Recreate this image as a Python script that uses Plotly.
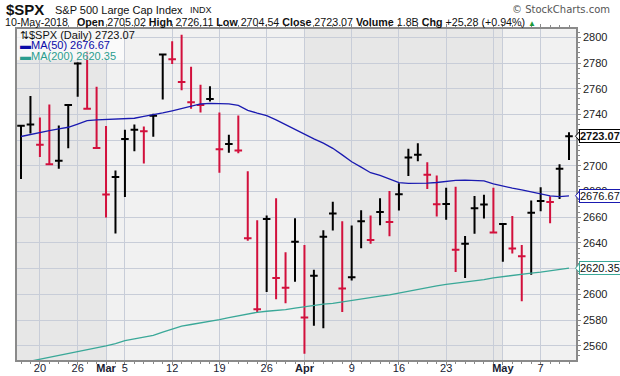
import plotly.graph_objects as go

dates = ["2018-02-15", "2018-02-16", "2018-02-20", "2018-02-21", "2018-02-22", "2018-02-23",
         "2018-02-26", "2018-02-27", "2018-02-28", "2018-03-01", "2018-03-02", "2018-03-05",
         "2018-03-06", "2018-03-07", "2018-03-08", "2018-03-09", "2018-03-12", "2018-03-13",
         "2018-03-14", "2018-03-15", "2018-03-16", "2018-03-19", "2018-03-20", "2018-03-21",
         "2018-03-22", "2018-03-23", "2018-03-26", "2018-03-27", "2018-03-28", "2018-03-29",
         "2018-04-02", "2018-04-03", "2018-04-04", "2018-04-05", "2018-04-06", "2018-04-09",
         "2018-04-10", "2018-04-11", "2018-04-12", "2018-04-13", "2018-04-16", "2018-04-17",
         "2018-04-18", "2018-04-19", "2018-04-20", "2018-04-23", "2018-04-24", "2018-04-25",
         "2018-04-26", "2018-04-27", "2018-04-30", "2018-05-01", "2018-05-02", "2018-05-03",
         "2018-05-04", "2018-05-07", "2018-05-08", "2018-05-09", "2018-05-10"]

high = [2731.5, 2754.4, 2737.6, 2747.8, 2731.3, 2747.8, 2780.6, 2789.2, 2761.5, 2730.9,
        2696.3, 2728.1, 2732.1, 2730.6, 2740.5, 2786.6, 2797.0, 2801.9, 2777.1, 2763.0,
        2761.9, 2741.4, 2724.2, 2739.1, 2695.7, 2657.7, 2661.4, 2674.8, 2632.7, 2659.1,
        2638.3, 2619.1, 2649.9, 2672.1, 2656.9, 2653.6, 2665.5, 2661.4, 2674.7, 2680.3,
        2686.5, 2713.3, 2717.5, 2702.8, 2692.4, 2682.9, 2683.6, 2645.3, 2676.5, 2677.4,
        2682.9, 2655.3, 2660.9, 2638.3, 2673.0, 2683.4, 2676.3, 2701.3, 2726.1]
low = [2689.8, 2725.1, 2706.8, 2701.3, 2697.8, 2713.7, 2753.8, 2744.2, 2713.5, 2659.7,
       2647.3, 2675.8, 2711.3, 2701.7, 2722.7, 2751.5, 2779.3, 2758.7, 2744.4, 2741.5,
       2750.0, 2694.6, 2710.1, 2709.8, 2641.6, 2585.9, 2601.8, 2596.1, 2593.1, 2609.7,
       2553.8, 2575.5, 2573.6, 2649.6, 2586.3, 2610.8, 2635.8, 2639.3, 2653.8, 2645.1,
       2665.2, 2692.1, 2703.6, 2681.9, 2660.6, 2658.0, 2617.3, 2612.7, 2647.2, 2659.0,
       2648.0, 2625.4, 2631.7, 2594.6, 2615.3, 2664.7, 2655.2, 2674.1, 2704.5]
close = [2731.2, 2732.2, 2716.3, 2701.3, 2704.0, 2747.3, 2779.6, 2744.3, 2713.8, 2677.7,
         2691.3, 2720.9, 2728.1, 2726.8, 2739.0, 2786.6, 2783.0, 2765.3, 2749.5, 2747.3,
         2752.0, 2712.9, 2716.9, 2711.9, 2643.7, 2588.3, 2658.6, 2612.6, 2605.0, 2640.9,
         2581.9, 2614.5, 2644.7, 2662.8, 2604.5, 2613.2, 2656.9, 2642.2, 2664.0, 2656.3,
         2677.8, 2706.4, 2708.6, 2693.1, 2670.1, 2670.3, 2634.6, 2639.4, 2666.9, 2669.9,
         2648.1, 2654.8, 2635.7, 2629.7, 2663.4, 2672.6, 2671.9, 2697.8, 2723.07]
prev_close_first = 2698.6

ma50 = [2722.8, 2724.5, 2726.0, 2727.3, 2728.7, 2730.0, 2732.5, 2735.1, 2735.7, 2735.9,
        2736.1, 2736.3, 2737.0, 2738.4, 2739.6, 2741.2, 2742.8, 2744.5, 2746.2, 2748.1,
        2748.6, 2748.6, 2748.2, 2747.0, 2743.2, 2741.0, 2739.0, 2735.8, 2732.0, 2728.5,
        2724.5, 2721.0, 2717.6, 2713.6, 2708.5, 2703.2, 2699.0, 2694.6, 2692.5, 2690.0,
        2686.9, 2686.3, 2686.3, 2686.5, 2687.0, 2688.0, 2688.7, 2688.8, 2688.6, 2688.2,
        2686.0, 2684.0, 2682.6, 2681.2, 2679.6, 2677.8, 2676.6, 2676.0, 2676.67]
ma200 = [2546.5, 2548.0, 2549.4, 2550.8, 2552.2, 2553.7, 2555.2, 2556.5, 2558.3, 2559.9,
         2561.7, 2563.9, 2565.3, 2566.7, 2568.0, 2570.5, 2573.0, 2575.3, 2576.5, 2577.6,
         2579.0, 2580.3, 2581.8, 2583.2, 2584.8, 2586.0, 2586.8, 2587.4, 2588.0, 2589.2,
         2590.3, 2591.3, 2592.3, 2593.0, 2594.2, 2595.5, 2596.6, 2597.6, 2598.6, 2599.5,
         2601.0, 2602.5, 2603.8, 2605.0, 2606.5, 2607.8, 2608.6, 2609.6, 2610.5, 2611.5,
         2612.8, 2613.8, 2614.8, 2616.0, 2616.5, 2617.2, 2618.4, 2619.4, 2620.35]

tick_idx = [2, 6, 9, 11, 16, 21, 26, 30, 35, 40, 45, 50, 51, 55]
tick_lbl = ["20", "26", "<b>Mar</b>", "5", "12", "19", "26", "<b>Apr</b>", "9", "16", "23", "",
            "<b>May</b>", "7"]
shaded_months = [(None, 9), (30, 51)]

y_ticks = [2560, 2580, 2600, 2620, 2640, 2660, 2680, 2700, 2720, 2740, 2760, 2780, 2800]
y_hidden = [2620, 2720]  # labels covered by the value boxes in the original

# ---- layout geometry (pixels) ----
W, H = 620, 376
L, R, T, B = 17, 576, 29, 360
X0, X1 = -0.4234, 58.741
Y0, Y1 = 2548.87, 2806.46


def px(xp):
    return (xp - L) / (R - L)


def py(yp):
    return (B - yp) / (B - T)


x = list(range(len(dates)))
RED = "#d2103c"
BLK = "#000000"
up_i, dn_i = [], []
for i in x:
    pc = prev_close_first if i == 0 else close[i - 1]
    (up_i if close[i] >= pc else dn_i).append(i)

fig = go.Figure()
for idx, col in ((up_i, BLK), (dn_i, RED)):
    fig.add_trace(go.Ohlc(
        x=idx,
        open=[close[i] for i in idx],
        high=[high[i] for i in idx],
        low=[low[i] for i in idx],
        close=[close[i] for i in idx],
        increasing=dict(line=dict(color=col, width=2)),
        decreasing=dict(line=dict(color=col, width=2)),
        tickwidth=0.4, showlegend=False, hoverinfo="skip"))

fig.add_trace(go.Scatter(x=x, y=ma200, mode="lines", line=dict(color="#3aa898", width=1.3),
                         showlegend=False, hoverinfo="skip"))
fig.add_trace(go.Scatter(x=x, y=ma50, mode="lines", line=dict(color="#1a1ab0", width=1.3),
                         showlegend=False, hoverinfo="skip"))

shapes = []
for a, b in shaded_months:
    shapes.append(dict(type="rect", xref="x", yref="paper", x0=X0 if a is None else a, x1=b,
                       y0=0, y1=1, fillcolor="#e7e7e7", line=dict(width=0), layer="below"))
# legend box
shapes.append(dict(type="rect", xref="paper", yref="paper", x0=px(17), x1=px(124),
                   y0=py(60), y1=py(29), fillcolor="rgba(255,255,255,0.65)",
                   line=dict(width=0), layer="above"))

FONT = "Arial, Liberation Sans, sans-serif"
ann = []
# header
ann.append(dict(xref="paper", yref="paper", x=px(4), y=py(10), xanchor="left", yanchor="middle",
                text="<b>$SPX</b>", showarrow=False, font=dict(family=FONT, size=15, color="#111")))
ann.append(dict(xref="paper", yref="paper", x=px(53), y=py(10), xanchor="left", yanchor="middle",
                text="S&P 500 Large Cap Index", showarrow=False,
                font=dict(family=FONT, size=11, color="#111")))
ann.append(dict(xref="paper", yref="paper", x=px(188), y=py(10), xanchor="left", yanchor="middle",
                text="INDX", showarrow=False, font=dict(family=FONT, size=9, color="#111")))
ann.append(dict(xref="paper", yref="paper", x=px(612), y=py(10), xanchor="right", yanchor="middle",
                text="© StockCharts.com", showarrow=False,
                font=dict(family="DejaVu Sans, sans-serif", size=10, color="#555")))
line2 = ("10-May-2018&nbsp;&nbsp; <b>Open</b> 2705.02 <b>High</b> 2726.11 <b>Low</b> 2704.54 "
         "<b>Close</b> 2723.07 <b>Volume</b> 1.8B <b>Chg</b> +25.28 (+0.94%) "
         "<span style='color:#1a9a3a;font-size:8px'>▲</span>")
ann.append(dict(xref="paper", yref="paper", x=px(3), y=py(22), xanchor="left", yanchor="middle",
                text=line2, showarrow=False, font=dict(family=FONT, size=10.7, color="#111")))
# in-chart legend
ann.append(dict(xref="paper", yref="paper", x=px(18), y=py(34.5), xanchor="left", yanchor="middle",
                text="⇅$SPX (Daily) 2723.07", showarrow=False,
                font=dict(family=FONT, size=11, color="#111")))
ann.append(dict(xref="paper", yref="paper", x=px(18), y=py(45), xanchor="left", yanchor="middle",
                text="▬MA(50) 2676.67", showarrow=False,
                font=dict(family=FONT, size=11, color="#0a0aa8")))
ann.append(dict(xref="paper", yref="paper", x=px(18), y=py(55.5), xanchor="left", yanchor="middle",
                text="▬MA(200) 2620.35", showarrow=False,
                font=dict(family=FONT, size=11, color="#2a9d8f")))
# right value boxes
for val, txt, bc, bold in ((close[-1], "2723.07", "#000000", True),
                           (ma50[-1], "2676.67", "#1a1ab0", False),
                           (ma200[-1], "2620.35", "#3aa898", False)):
    ann.append(dict(xref="paper", yref="y", x=px(579), y=val, xanchor="left", yanchor="middle",
                    text=("<b>%s</b>" % txt) if bold else txt, showarrow=False,
                    bgcolor="white", bordercolor=bc, borderwidth=1, borderpad=0,
                    font=dict(family=FONT, size=11, color="#111")))
    shapes.append(dict(type="path", xref="paper", yref="y",
                       path="M %f,%f L %f,%f L %f,%f Z" % (px(575.5), val, px(579.5), val + 3.5,
                                                           px(579.5), val - 3.5),
                       fillcolor="white", line=dict(color=bc, width=1), layer="above"))

fig.update_layout(
    width=W, height=H, paper_bgcolor="white", plot_bgcolor="#f1f1f1",
    margin=dict(l=L, r=W - R, t=T, b=H - B, pad=0),
    shapes=shapes, annotations=ann, showlegend=False,
    font=dict(family=FONT, size=11, color="#1a2233"),
    xaxis=dict(range=[X0, X1], tickmode="array", tickvals=tick_idx, ticktext=tick_lbl,
               showgrid=True, gridcolor="#c8cdd8", gridwidth=1, zeroline=False,
               showline=True, linecolor="#8a8a8a", linewidth=1.5, mirror="ticks",
               ticks="outside", ticklen=3, tickcolor="#8a8a8a", automargin=False,
               ticklabelstandoff=-6,
               minor=dict(tickmode="array", tickvals=x, ticks="outside", ticklen=2,
                          tickcolor="#8a8a8a", showgrid=False),
               tickfont=dict(family=FONT, size=11, color="#1a2233"),
               rangeslider=dict(visible=False), fixedrange=True),
    yaxis=dict(range=[Y0, Y1], side="right", tickmode="array", tickvals=y_ticks,
               ticktext=["" if v in y_hidden else str(v) for v in y_ticks],
               showgrid=True, gridcolor="#c8cdd8", gridwidth=1, zeroline=False,
               showline=True, linecolor="#8a8a8a", linewidth=1.5, mirror=True,
               ticks="outside", ticklen=3, tickcolor="#8a8a8a", automargin=False,
               minor=dict(dtick=4, tick0=2560, ticks="outside", ticklen=2, tickcolor="#8a8a8a",
                          showgrid=False),
               tickfont=dict(family=FONT, size=11, color="#222"), fixedrange=True),
)

fig.write_html("out.html", config={"displayModeBar": False},
               post_script="document.body.style.margin='0';document.body.style.overflow='hidden';")
